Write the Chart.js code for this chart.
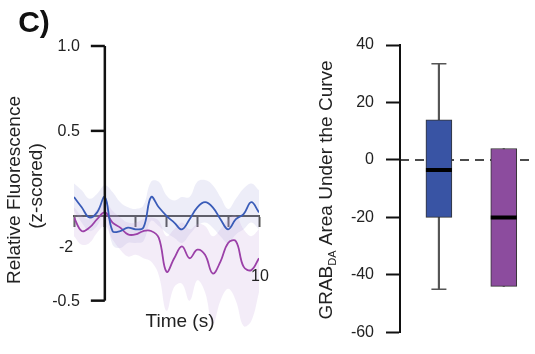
<!DOCTYPE html>
<html>
<head>
<meta charset="utf-8">
<script src="https://cdn.jsdelivr.net/npm/chart.js@4.4.1/dist/chart.umd.min.js"></script>
<style>
  body { margin: 0; background: #fff; }
  #wrap { position: relative; width: 535px; height: 354px; }
  #lineplot { position: absolute; left: 0; top: 0; }
  #boxplot { position: absolute; left: 280px; top: 0; }
</style>
</head>
<body>
<div id="wrap">
  <canvas id="lineplot" width="280" height="354"></canvas>
  <canvas id="boxplot" width="255" height="354"></canvas>
</div>
<script>
// time course, z-scored fluorescence (mean +/- band)
const times = [-2, -1.5, -1, -0.5, 0, 0.5, 1, 1.5, 2, 2.5, 3, 3.5, 4, 4.5, 5, 5.5, 6, 6.5, 7, 7.5, 8, 8.5, 9, 9.5, 10]

const blueMean  = [0.11, 0.05, -0.01, 0.02, 0.11, -0.09, -0.09, -0.07, -0.08, -0.07, 0.11, 0.05, 0.00, -0.04, -0.08, -0.02, 0.05, 0.08, 0.05, -0.02, -0.08, -0.02, 0.01, 0.08, 0.02]
const blueUpper = [0.19, 0.15, 0.10, 0.13, 0.18, 0.14, 0.08, 0.05, 0.04, 0.06, 0.20, 0.20, 0.12, 0.09, 0.11, 0.11, 0.20, 0.21, 0.18, 0.11, 0.04, 0.10, 0.16, 0.19, 0.15]
const blueLower = [0.03, -0.04, -0.09, -0.06, 0.02, -0.17, -0.19, -0.16, -0.16, -0.15, -0.03, -0.06, -0.10, -0.13, -0.16, -0.11, -0.06, -0.04, -0.07, -0.12, -0.16, -0.11, -0.08, -0.04, -0.08]

const purpleMean  = [-0.01, -0.09, -0.07, -0.02, 0.02, -0.04, -0.07, -0.11, -0.11, -0.09, -0.09, -0.13, -0.33, -0.25, -0.18, -0.25, -0.20, -0.23, -0.34, -0.27, -0.16, -0.15, -0.30, -0.32, -0.25]
const purpleUpper = [0.05, 0.00, -0.02, 0.04, 0.08, 0.03, -0.01, -0.04, -0.04, -0.02, -0.01, -0.03, -0.12, -0.08, -0.04, -0.08, -0.05, -0.06, -0.12, -0.08, -0.02, 0.00, -0.08, -0.12, -0.08]
const purpleLower = [-0.12, -0.17, -0.16, -0.10, -0.06, -0.14, -0.20, -0.24, -0.23, -0.25, -0.27, -0.35, -0.56, -0.42, -0.40, -0.50, -0.38, -0.45, -0.64, -0.50, -0.43, -0.50, -0.65, -0.62, -0.45]

const yTicksLeft = [-0.5, 0.5, 1.0]
const xTicksLeft = [-2, 0, 2, 4, 6, 8, 10]

// area under the curve, one box per group
const groups    = ['blue', 'purple']
const boxMin    = [-45, -44]
const boxQ1     = [-20, -44]
const boxMedian = [-3.5, -20]
const boxQ3     = [14, 4]
const boxMax    = [33.5, 4]
const yTicksRight = [-60, -40, -20, 0, 20, 40]

const blueCol = 'rgb(58, 92, 184)'
const purpleCol = 'rgb(155, 64, 168)'
const FONT = 'Liberation Sans, Arial, sans-serif'

function pts(arr){
  return arr.map((v, i) => ({x: times[i], y: v}))
}

function band(arr, color, fill, order){
  return {
    data: pts(arr),
    borderWidth: 0,
    borderColor: 'transparent',
    backgroundColor: color,
    pointRadius: 0,
    tension: 0.4,
    fill: fill,
    order: order,
  }
}

function line(arr, color, order){
  return {
    data: pts(arr),
    borderColor: color,
    borderWidth: 1.8,
    pointRadius: 0,
    tension: 0.4,
    fill: false,
    order: order,
  }
}

// axis lines + text for the left panel
const leftDecor = {
  id: 'leftDecor',
  afterDraw(chart){
    const ctx = chart.ctx
    const x = chart.scales.x
    const y = chart.scales.y
    const x0 = x.getPixelForValue(0)
    ctx.save()
    ctx.strokeStyle = '#111'
    ctx.lineWidth = 2.5
    ctx.beginPath()
    ctx.moveTo(x0, y.getPixelForValue(-0.5))
    ctx.lineTo(x0, y.getPixelForValue(1.0))
    ctx.stroke()

    ctx.fillStyle = '#222'
    ctx.font = '16px ' + FONT
    ctx.textAlign = 'right'
    ctx.textBaseline = 'middle'
    ctx.lineWidth = 2.5
    yTicksLeft.forEach(v => {
      const py = y.getPixelForValue(v)
      ctx.beginPath()
      ctx.moveTo(x0, py)
      ctx.lineTo(x0 - 14, py)
      ctx.stroke()
      ctx.fillText(v.toFixed(1), x0 - 25, py + 1)
    })

    ctx.textAlign = 'center'
    ctx.fillText('-2', x.getPixelForValue(-2) - 8, y.getPixelForValue(-0.19))
    ctx.fillText('10', x.getPixelForValue(10) + 1, y.getPixelForValue(-0.36))

    ctx.font = '19px ' + FONT
    ctx.fillText('Time (s)', 180, 322)

    ctx.save()
    ctx.translate(15, 190)
    ctx.rotate(-Math.PI / 2)
    ctx.fillText('Relative Fluorescence', 0, 0)
    ctx.restore()
    ctx.save()
    ctx.translate(37, 186)
    ctx.rotate(-Math.PI / 2)
    ctx.fillText('(z-scored)', 0, 0)
    ctx.restore()

    ctx.font = 'bold 30px ' + FONT
    ctx.fillStyle = '#111'
    ctx.fillText('C)', 34, 24)
    ctx.restore()
  }
}

new Chart(document.getElementById('lineplot'), {
  type: 'line',
  data: {
    datasets: [
      band(blueUpper, 'rgba(150, 150, 215, 0.17)', '+1', 4),
      band(blueLower, 'transparent', false, 4),
      band(purpleUpper, 'rgba(195, 160, 220, 0.2)', '+1', 3),
      band(purpleLower, 'transparent', false, 3),
      line(purpleMean, purpleCol, 2),
      line(blueMean, blueCol, 1),
    ]
  },
  options: {
    responsive: false,
    animation: false,
    layout: { autoPadding: false, padding: { left: 74, right: 21, top: 46, bottom: 16 } },
    plugins: { legend: { display: false }, tooltip: { enabled: false } },
    scales: {
      x: {
        type: 'linear',
        position: { y: 0 },
        min: -2,
        max: 10,
        afterBuildTicks: axis => { axis.ticks = xTicksLeft.map(v => ({value: v})) },
        ticks: { display: false },
        grid: { drawOnChartArea: false, drawTicks: true, tickLength: 10, tickColor: '#555', tickWidth: 2 },
        border: { display: true, color: '#555', width: 2 },
      },
      y: {
        type: 'linear',
        position: { x: 0 },
        min: -0.72,
        max: 1.0,
        ticks: { display: false },
        grid: { display: false },
        border: { display: false },
      }
    }
  },
  plugins: [leftDecor]
})

// dashed zero line and y title with subscript for the box panel
const rightDecor = {
  id: 'rightDecor',
  beforeDatasetsDraw(chart){
    const ctx = chart.ctx
    const y0 = chart.scales.y.getPixelForValue(0)
    ctx.save()
    ctx.strokeStyle = '#111'
    ctx.lineWidth = 1.6
    ctx.setLineDash([9, 6])
    ctx.beginPath()
    ctx.moveTo(chart.chartArea.left, y0)
    ctx.lineTo(chart.chartArea.right, y0)
    ctx.stroke()
    ctx.restore()
  },
  afterDraw(chart){
    const ctx = chart.ctx
    ctx.save()
    ctx.fillStyle = '#222'
    ctx.textBaseline = 'alphabetic'
    ctx.textAlign = 'left'
    const big = '19px ' + FONT
    const small = '11px ' + FONT
    ctx.font = big
    const w1 = ctx.measureText('GRAB').width
    const w3 = ctx.measureText(' Area Under the Curve').width
    ctx.font = small
    const w2 = ctx.measureText('DA').width
    const total = w1 + w2 + w3
    ctx.translate(45, 190)
    ctx.rotate(-Math.PI / 2)
    let px = -total / 2
    ctx.font = big
    ctx.fillText('GRAB', px, 7)
    px += w1
    ctx.font = small
    ctx.fillText('DA', px, 11)
    px += w2
    ctx.font = big
    ctx.fillText(' Area Under the Curve', px, 7)
    ctx.restore()
  }
}

const boxColors = ['rgb(57, 84, 164)', 'rgb(140, 76, 158)']
const capPts = []
groups.forEach((g, i) => {
  if (boxMax[i] > boxQ3[i]) capPts.push({x: i, y: boxMax[i]})
  if (boxMin[i] < boxQ1[i]) capPts.push({x: i, y: boxMin[i]})
})

new Chart(document.getElementById('boxplot'), {
  type: 'bar',
  data: {
    datasets: [
      {
        type: 'bar',
        data: groups.map((g, i) => ({x: i, y: [boxMin[i], boxMax[i]]})),
        backgroundColor: '#555',
        barThickness: 1.5,
        grouped: false,
        order: 4,
      },
      {
        type: 'line',
        data: capPts,
        showLine: false,
        pointStyle: 'line',
        pointRadius: 7.5,
        pointBorderWidth: 1.5,
        pointBorderColor: '#555',
        order: 3,
      },
      {
        type: 'bar',
        data: groups.map((g, i) => ({x: i, y: [boxQ1[i], boxQ3[i]]})),
        backgroundColor: boxColors,
        borderColor: '#333',
        borderWidth: 1,
        borderSkipped: false,
        barThickness: 26,
        grouped: false,
        order: 2,
      },
      {
        type: 'line',
        data: groups.map((g, i) => ({x: i, y: boxMedian[i]})),
        showLine: false,
        pointStyle: 'line',
        pointRadius: 13,
        pointBorderWidth: 4,
        pointBorderColor: '#000',
        order: 1,
      },
    ]
  },
  options: {
    responsive: false,
    animation: false,
    layout: { autoPadding: false, padding: { left: 70, right: 4, top: 45, bottom: 20 } },
    plugins: { legend: { display: false }, tooltip: { enabled: false } },
    scales: {
      x: { type: 'linear', display: false, offset: false, bounds: 'data', min: -0.6, max: 1.42 },
      y: {
        type: 'linear',
        position: 'left',
        min: -60,
        max: 40,
        afterBuildTicks: axis => { axis.ticks = yTicksRight.map(v => ({value: v})) },
        afterFit: scale => { scale.width = 50 },
        ticks: { color: '#222', font: { size: 16, family: FONT }, padding: 12 },
        grid: { drawOnChartArea: false, drawTicks: true, tickLength: 14, tickColor: '#111', tickWidth: 2 },
        border: { display: true, color: '#111', width: 2 },
      }
    }
  },
  plugins: [rightDecor]
})
</script>
</body>
</html>
